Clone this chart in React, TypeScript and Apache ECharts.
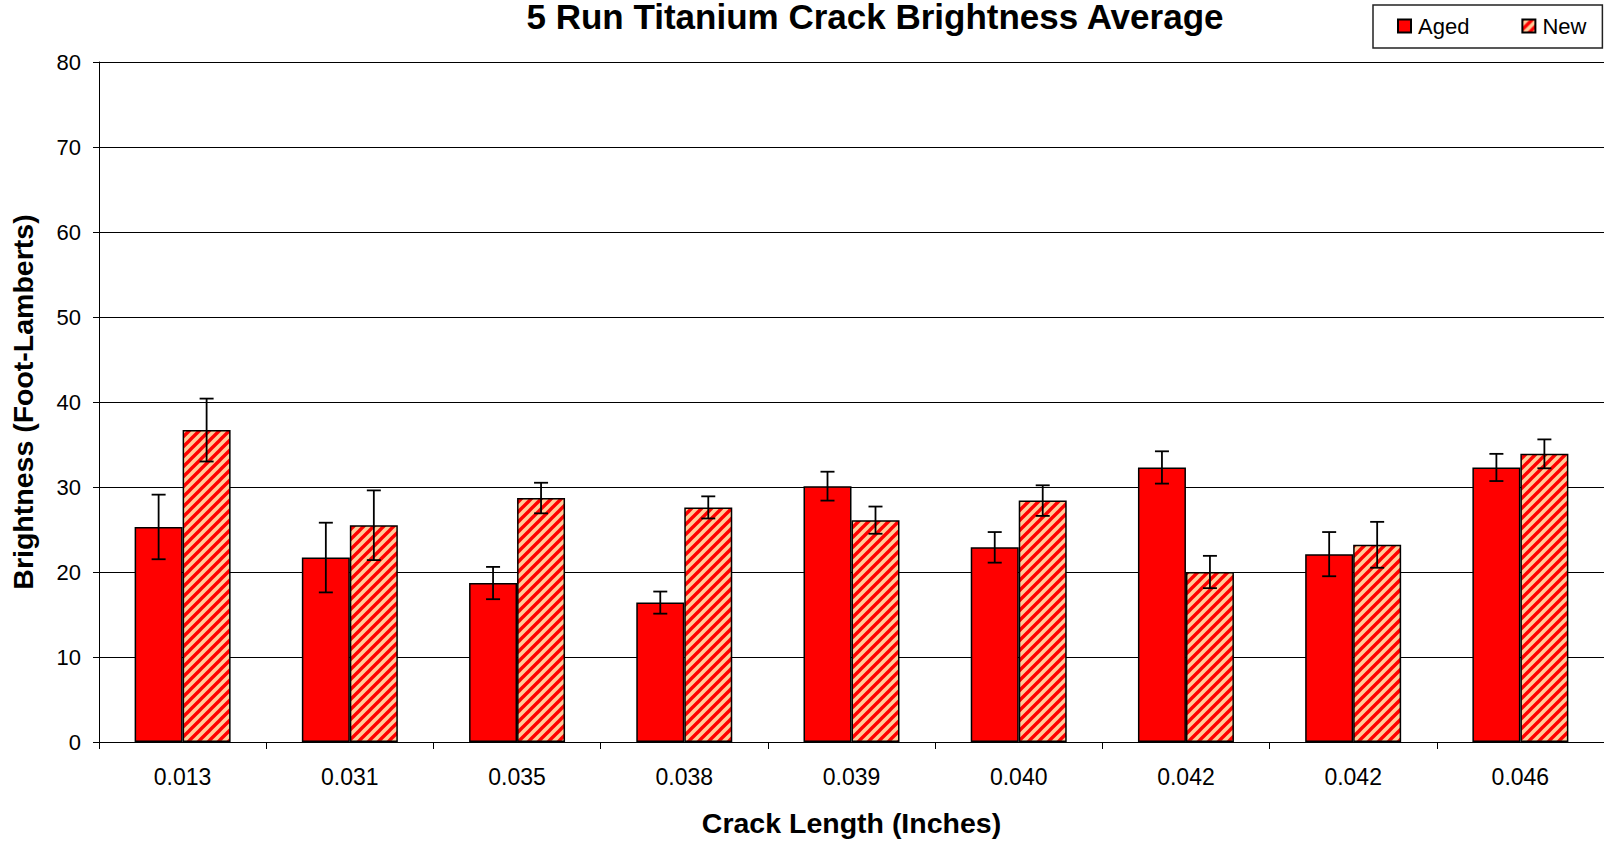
import React, { useEffect, useRef } from "react";
import * as echarts from "echarts";

const categories = ["0.013", "0.031", "0.035", "0.038", "0.039", "0.040", "0.042", "0.042", "0.046"];
const agedValues = [25.3, 21.7, 18.7, 16.4, 30.1, 22.9, 32.3, 22.1, 32.3];
const agedErrors = [3.8, 4.1, 1.9, 1.3, 1.7, 1.8, 1.9, 2.6, 1.6];
const newValues = [36.7, 25.5, 28.7, 27.6, 26.1, 28.4, 20.0, 23.2, 33.9];
const newErrors = [3.7, 4.1, 1.8, 1.3, 1.6, 1.8, 1.9, 2.7, 1.7];
const yTicks = { min: 0, max: 80, interval: 10 };

const FONT = '"Liberation Sans", Arial, Helvetica, sans-serif';
const CAT_GAP = 0.426;
const TILE = 10;

function makeStripePattern(): HTMLCanvasElement {
  const c = document.createElement("canvas");
  c.width = TILE;
  c.height = TILE;
  const ctx = c.getContext("2d")!;
  ctx.fillStyle = "#FFCC99";
  ctx.fillRect(0, 0, TILE, TILE);
  ctx.strokeStyle = "#FF0000";
  ctx.lineWidth = 3.4;
  const segs = [
    [-2, 2, 2, -2],
    [-2, TILE + 2, TILE + 2, -2],
    [TILE - 2, TILE + 2, TILE + 2, TILE - 2],
  ];
  for (const s of segs) {
    ctx.beginPath();
    ctx.moveTo(s[0], s[1]);
    ctx.lineTo(s[2], s[3]);
    ctx.stroke();
  }
  return c;
}

function errorRenderer(side: number) {
  return (params: any, api: any) => {
    const i = api.value(0);
    const v = api.value(1);
    const e = api.value(2);
    const band = api.size([1, 0])[0];
    const barW = (band * (1 - CAT_GAP)) / 2;
    const top = api.coord([i, v + e]);
    const bot = api.coord([i, v - e]);
    const x = top[0] + (side * barW) / 2;
    const hw = 7;
    const style = { stroke: "#000", lineWidth: 1.8 };
    return {
      type: "group",
      children: [
        { type: "line", shape: { x1: x, y1: top[1], x2: x, y2: bot[1] }, style },
        { type: "line", shape: { x1: x - hw, y1: top[1], x2: x + hw, y2: top[1] }, style },
        { type: "line", shape: { x1: x - hw, y1: bot[1], x2: x + hw, y2: bot[1] }, style },
      ],
    };
  };
}

export default function App() {
  const ref = useRef<HTMLDivElement>(null);

  useEffect(() => {
    if (!ref.current) return;
    const chart = echarts.init(ref.current, null, { renderer: "svg" });
    const pattern = makeStripePattern();

    const option: any = {
      animation: false,
      backgroundColor: "#fff",
      textStyle: { fontFamily: FONT },
      graphic: [
        {
          type: "text",
          x: 875,
          y: 16,
          style: {
            text: "5 Run Titanium Crack Brightness Average",
            fontFamily: FONT,
            fontSize: 35,
            lineHeight: 31,
            fontWeight: "bold",
            fill: "#000",
            align: "center",
            verticalAlign: "middle",
          },
        },
      ],
      legend: {
        data: ["Aged", "New"],
        left: 1373,
        top: 5,
        orient: "horizontal",
        padding: [10, 16, 11, 24],
        itemGap: 52,
        itemWidth: 13,
        itemHeight: 13,
        backgroundColor: "#fff",
        borderColor: "#222",
        borderWidth: 1.5,
        borderRadius: 0,
        icon: "rect",
        textStyle: { fontFamily: FONT, fontSize: 22, color: "#000", padding: [0, 0, 6, 2] },
      },
      grid: { left: 98, top: 62, width: 1507, height: 682, containLabel: false },
      xAxis: {
        type: "category",
        data: categories,
        boundaryGap: true,
        name: "Crack Length (Inches)",
        nameLocation: "middle",
        nameGap: 66,
        nameTextStyle: { fontFamily: FONT, fontSize: 28.5, fontWeight: "bold", color: "#000" },
        axisLine: { show: true, lineStyle: { color: "#000", width: 1 } },
        axisTick: { show: true, length: 7, alignWithLabel: false, interval: 0, lineStyle: { color: "#000" } },
        axisLabel: { interval: 0, fontFamily: FONT, fontSize: 23, color: "#000", margin: 23 },
        splitLine: { show: false },
      },
      yAxis: {
        type: "value",
        min: yTicks.min,
        max: yTicks.max,
        interval: yTicks.interval,
        name: "Brightness (Foot-Lamberts)",
        nameLocation: "middle",
        nameGap: 62,
        nameTextStyle: { fontFamily: FONT, fontSize: 28.5, fontWeight: "bold", color: "#000" },
        axisLine: { show: true, lineStyle: { color: "#000", width: 1 } },
        axisTick: { show: true, length: 6, lineStyle: { color: "#000" } },
        axisLabel: { fontFamily: FONT, fontSize: 22, color: "#000", margin: 18 },
        splitLine: { show: true, lineStyle: { color: "#000", width: 1 } },
      },
      series: [
        {
          name: "Aged",
          type: "bar",
          data: agedValues,
          barGap: "0%",
          barCategoryGap: CAT_GAP * 100 + "%",
          itemStyle: { color: "#FF0000", borderColor: "#000", borderWidth: 1.5 },
        },
        {
          name: "New",
          type: "bar",
          data: newValues,
          barGap: "0%",
          barCategoryGap: CAT_GAP * 100 + "%",
          itemStyle: {
            color: { image: pattern, repeat: "repeat", imageWidth: TILE, imageHeight: TILE },
            borderColor: "#000",
            borderWidth: 1.5,
          },
        },
        {
          name: "AgedErr",
          type: "custom",
          z: 10,
          silent: true,
          encode: { x: 0, y: 1 },
          data: agedValues.map((v, i) => [i, v, agedErrors[i]]),
          renderItem: errorRenderer(-1),
        },
        {
          name: "NewErr",
          type: "custom",
          z: 10,
          silent: true,
          encode: { x: 0, y: 1 },
          data: newValues.map((v, i) => [i, v, newErrors[i]]),
          renderItem: errorRenderer(1),
        },
      ],
    };

    chart.setOption(option);
    return () => chart.dispose();
  }, []);

  return (
    <div
      ref={ref}
      style={{ position: "fixed", left: 0, top: 0, width: 1604, height: 842, background: "#fff" }}
    />
  );
}
